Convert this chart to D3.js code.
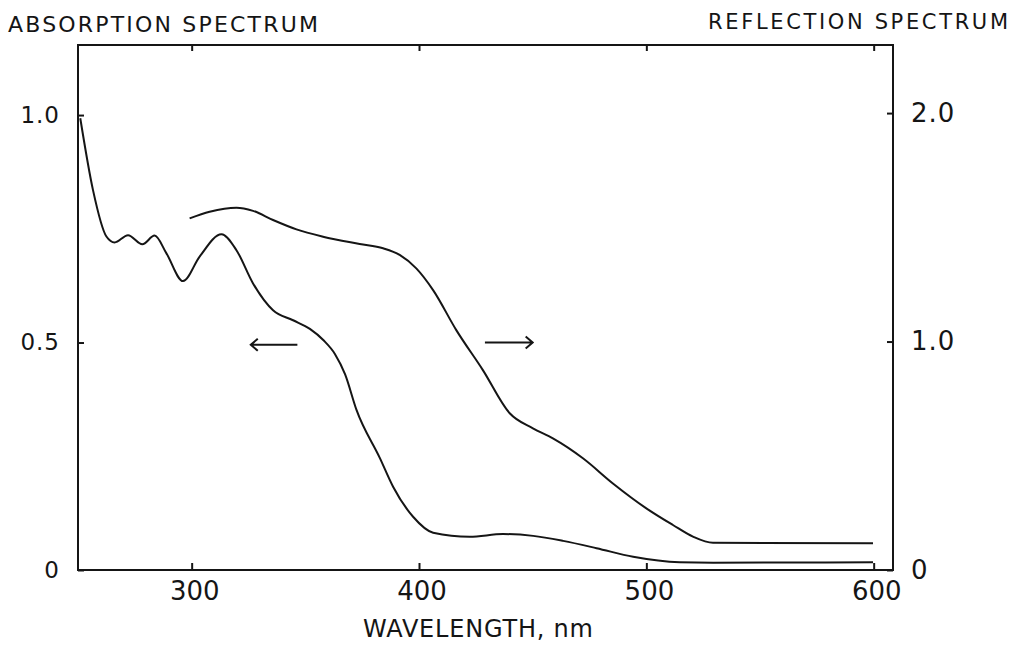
<!DOCTYPE html>
<html lang="en">
<head>
<meta charset="UTF-8">
<title>Absorption and reflection spectrum</title>
<style>
	body { margin: 0; background: #fff; }
	svg text { font-family: "DejaVu Sans", sans-serif; fill: #151515; }
	.frame { fill: none; stroke: #151515; stroke-width: 2; }
	.axis path { display: none; }
	.axis line { stroke: #151515; stroke-width: 2; }
	.curve { fill: none; stroke: #151515; stroke-width: 2; }
</style>
<script src="https://cdn.jsdelivr.net/npm/d3@7/dist/d3.min.js"></script>
</head>
<body>
<script>
// absorption spectrum (left axis)
var absWl  = [251, 256.6, 262.5, 266.1, 272, 278.3, 283.7, 288.9, 296.2, 303.5, 313.1, 319.7, 327, 335.8, 344.6, 352, 358, 363, 367.5, 372.5, 382.8, 388.6, 397.4, 406.2, 422.3, 437, 450.2, 463.4, 478.1, 494.2, 514.7, 529.4, 599.7];
var absVal = [0.993, 0.835, 0.733, 0.72, 0.736, 0.716, 0.735, 0.696, 0.635, 0.689, 0.738, 0.703, 0.63, 0.571, 0.549, 0.53, 0.505, 0.475, 0.43, 0.352, 0.246, 0.183, 0.117, 0.082, 0.073, 0.079, 0.075, 0.064, 0.048, 0.029, 0.017, 0.016, 0.017];

// reflection spectrum (right axis)
var refWl  = [299.1, 307.9, 319.7, 327, 335.8, 346.1, 357.8, 373.9, 384.2, 391.5, 398.8, 406.2, 416.4, 428.1, 439.9, 450.1, 458.9, 472.1, 485.3, 500, 511.7, 520.5, 529.3, 599.7];
var refVal = [1.539, 1.568, 1.586, 1.572, 1.532, 1.491, 1.459, 1.427, 1.408, 1.379, 1.32, 1.225, 1.05, 0.875, 0.686, 0.62, 0.576, 0.489, 0.379, 0.27, 0.197, 0.146, 0.119, 0.117];

var xTicks = [300, 400, 500, 600];
var leftTicks = [0, 0.5, 1.0];
var rightTicks = [0, 1.0, 2.0];

var width = 1019, height = 645;
var margin = {top: 45, right: 126, bottom: 75, left: 78};

var svg = d3.select("body").append("svg")
	.attr("width", width)
	.attr("height", height);

var x = d3.scaleLinear().domain([250, 608.5]).range([margin.left, width - margin.right]);
var yL = d3.scaleLinear().domain([0, 1.154]).range([height - margin.bottom, margin.top]);
var yR = d3.scaleLinear().domain([0, 2.298]).range([height - margin.bottom, margin.top]);

var fmtL = function(d) { return d === 0 ? "0" : d3.format(".1f")(d); };

svg.append("g")
	.attr("class", "axis")
	.attr("transform", "translate(0," + (height - margin.bottom) + ")")
	.call(d3.axisBottom(x).tickValues(xTicks).tickSize(-7).tickPadding(12))
	.selectAll("text").style("font-size", "26px").attr("dx", "0.1em");

svg.append("g")
	.attr("class", "axis")
	.attr("transform", "translate(0," + margin.top + ")")
	.call(d3.axisTop(x).tickValues(xTicks).tickSize(-6).tickFormat(""));

svg.append("g")
	.attr("class", "axis")
	.attr("transform", "translate(" + margin.left + ",0)")
	.call(d3.axisLeft(yL).tickValues(leftTicks).tickSize(-6).tickPadding(18).tickFormat(fmtL))
	.selectAll("text").style("font-size", "23px").style("letter-spacing", "1px");

svg.append("g")
	.attr("class", "axis")
	.attr("transform", "translate(" + (width - margin.right) + ",0)")
	.call(d3.axisRight(yR).tickValues(rightTicks).tickSize(-6).tickPadding(18).tickFormat(fmtL))
	.selectAll("text").style("font-size", "26px").style("letter-spacing", "1px");

svg.append("rect")
	.attr("class", "frame")
	.attr("x", margin.left)
	.attr("y", margin.top)
	.attr("width", width - margin.left - margin.right)
	.attr("height", height - margin.top - margin.bottom);

var line = d3.line().curve(d3.curveMonotoneX);

svg.append("path")
	.attr("class", "curve")
	.attr("d", line(absWl.map(function(d, i) { return [x(d), yL(absVal[i])]; })));

svg.append("path")
	.attr("class", "curve")
	.attr("d", line(refWl.map(function(d, i) { return [x(d), yR(refVal[i])]; })));

// arrows telling which axis each curve belongs to
function arrow(x0, x1, yv) {
	var px0 = x(x0), px1 = x(x1), py = yL(yv);
	var dir = px1 > px0 ? -1 : 1;
	svg.append("path")
		.attr("class", "curve")
		.attr("d", "M" + px0 + "," + py + "H" + px1 +
			"M" + (px1 + dir * 7) + "," + (py - 6) + "L" + px1 + "," + py + "L" + (px1 + dir * 7) + "," + (py + 6));
}
arrow(346.5, 326, 0.495);
arrow(429, 450, 0.5);

svg.append("text")
	.attr("x", 8).attr("y", 32)
	.style("font-size", "22px")
	.attr("textLength", 310)
	.text("ABSORPTION SPECTRUM");

svg.append("text")
	.attr("x", 708).attr("y", 29)
	.style("font-size", "21px")
	.attr("textLength", 300)
	.text("REFLECTION SPECTRUM");

svg.append("text")
	.attr("x", 363).attr("y", 637)
	.style("font-size", "24px")
	.attr("textLength", 230)
	.text("WAVELENGTH, nm");
</script>
</body>
</html>
